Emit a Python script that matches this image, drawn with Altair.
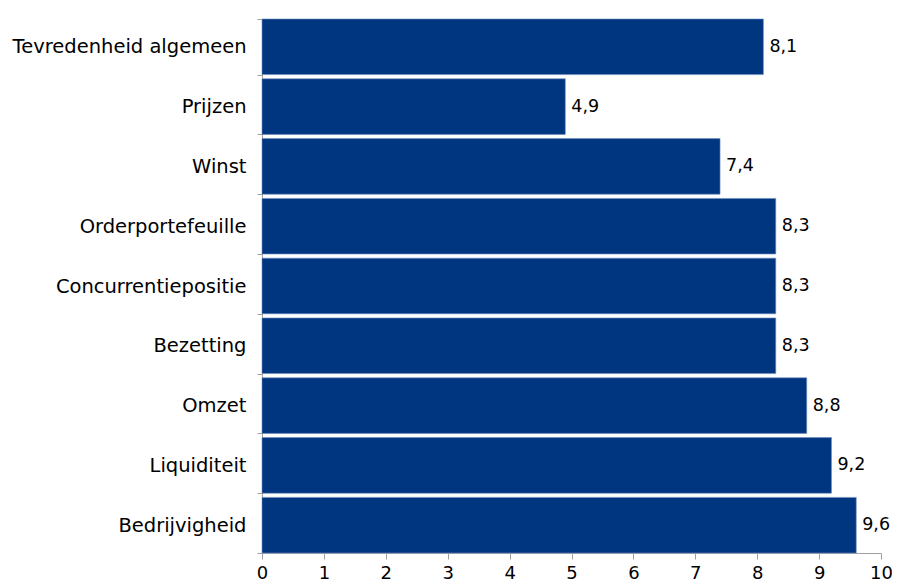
import altair as alt
import pandas as pd

categories = ["Tevredenheid algemeen", "Prijzen", "Winst", "Orderportefeuille",
              "Concurrentiepositie", "Bezetting", "Omzet", "Liquiditeit", "Bedrijvigheid"]
values = [8.1, 4.9, 7.4, 8.3, 8.3, 8.3, 8.8, 9.2, 9.6]
x_ticks = list(range(0, 11))

df = pd.DataFrame({"cat": categories, "val": values})

FONT = "DejaVu Sans"
BLUE = "#003580"

y_enc = alt.Y("cat:N", sort=categories, title=None,
              scale=alt.Scale(paddingInner=0.07, paddingOuter=0.0),
              axis=alt.Axis(tickBand="extent", labelFont=FONT, labelFontSize=19.5,
                            labelColor="#000000", labelPadding=11, tickSize=5,
                            tickColor="#a0a0a0", domainColor="#a0a0a0", labelLimit=400))

x_enc = alt.X("val:Q", title=None,
              scale=alt.Scale(domain=[0, 10], nice=False),
              axis=alt.Axis(values=x_ticks, format="d", labelFont=FONT, labelFontSize=18,
                            labelColor="#000000", tickSize=6, tickColor="#a0a0a0",
                            domainColor="#a0a0a0", grid=False, labelPadding=5,
                            labelFlush=False))

bars = alt.Chart(df).mark_bar(color=BLUE, stroke="#6f8fbf", strokeWidth=0.6).encode(
    x=x_enc, y=y_enc)

labels = alt.Chart(df).transform_calculate(
    lab="replace(format(datum.val, '.1f'), '.', ',')"
).mark_text(align="left", baseline="middle", dx=6, font=FONT, fontSize=17.5,
            color="#000000").encode(
    x=alt.X("val:Q"), y=alt.Y("cat:N", sort=categories), text="lab:N")

chart = alt.layer(bars, labels).properties(
    width=619, height=534,
    autosize=alt.AutoSizeParams(type="none"),
    padding={"left": 254, "top": 11, "right": 11, "bottom": 30},
).configure(background="white").configure_view(stroke=None)

chart.save("out.html", embed_options={"renderer": "svg", "actions": False})
